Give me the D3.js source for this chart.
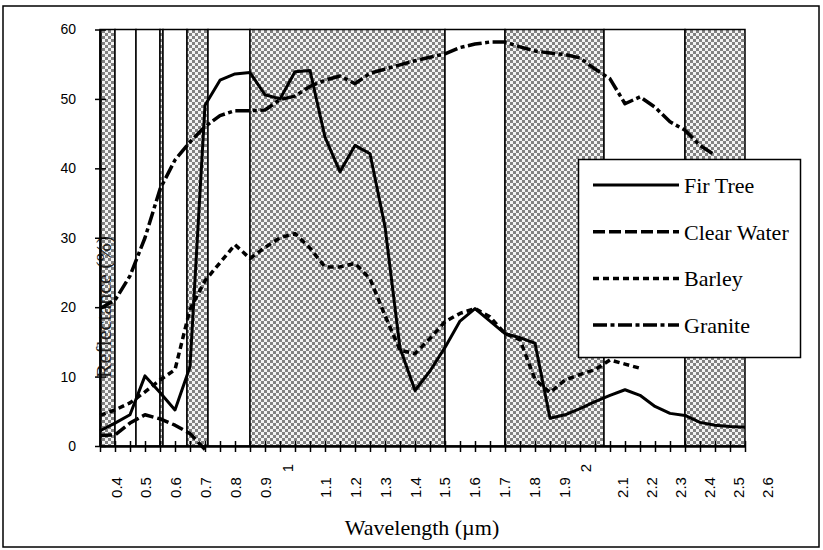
<!DOCTYPE html>
<html>
<head>
<meta charset="utf-8">
<script src="https://cdn.jsdelivr.net/npm/d3@7"></script>
<style>
    body { margin: 0; background: #fff; }
    svg { display: block; }
    .serif { font-family: "Liberation Serif", "Times New Roman", "DejaVu Serif", serif; }
    .sans { font-family: "Liberation Sans", Arial, sans-serif; }
</style>
</head>
<body>
<div id="chart"></div>
<script>
// wavelength categories (um) and reflectance (%)
const wavelengths = [0.40, 0.45, 0.50, 0.55, 0.60, 0.65, 0.70, 0.75, 0.80, 0.85, 0.90, 0.95,
    1.00, 1.05, 1.10, 1.15, 1.20, 1.25, 1.30, 1.35, 1.40, 1.45, 1.50, 1.55, 1.60, 1.65,
    1.70, 1.75, 1.80, 1.85, 1.90, 1.95, 2.00, 2.05, 2.10, 2.15, 2.20, 2.25, 2.30, 2.35,
    2.40, 2.45, 2.50, 2.55];
const firTree = [2.2, 3.3, 4.5, 10.1, 7.7, 5.2, 11.4, 49.1, 52.7, 53.6, 53.8, 50.6,
    50.0, 53.9, 54.1, 44.5, 39.5, 43.3, 42.1, 31.6, 14.1, 8.0, 10.8, 14.2, 18.0, 19.8,
    18.0, 16.2, 15.6, 14.8, 4.0, 4.5, 5.4, 6.4, 7.3, 8.1, 7.3, 5.7, 4.7, 4.4,
    3.4, 3.0, 2.8, 2.7];
const clearWater = [1.5, 1.6, 3.3, 4.5, 3.9, 3.0, 1.8, -0.5];
const barley = [4.4, 5.2, 6.2, 7.8, 9.5, 11.0, 19.7, 23.8, 26.4, 29.0, 27.0, 28.6,
    30.0, 30.6, 28.5, 25.8, 25.8, 26.3, 24.1, 18.8, 13.8, 13.3, 15.5, 17.9, 19.1, 19.8,
    18.6, 16.2, 15.3, 9.6, 7.7, 9.5, 10.3, 11.0, 12.4, 11.8, 11.2];
const granite = [19.8, 21.0, 24.5, 30.0, 37.0, 41.2, 43.8, 46.0, 47.6, 48.3, 48.3, 48.4,
    49.9, 50.4, 51.8, 52.7, 53.3, 52.2, 53.7, 54.3, 54.9, 55.5, 56.0, 56.5, 57.4, 57.9,
    58.2, 58.2, 57.5, 56.9, 56.6, 56.4, 55.9, 54.3, 52.9, 49.3, 50.3, 48.8, 46.7, 45.5,
    43.3, 41.9];

// sensor bands: edges (um) and whether the interval is a white (band) column
const bandEdges = [0.40, 0.45, 0.52, 0.60, 0.61, 0.69, 0.76, 0.90, 1.55, 1.75, 2.08, 2.35, 2.55];
const bandWhite = [false, true, true, false, true, false, true, false, true, false, true, false];

const yTicks = [0, 10, 20, 30, 40, 50, 60];
const xLabels = [0.4, 0.5, 0.6, 0.7, 0.8, 0.9, 1, 1.1, 1.2, 1.3, 1.4, 1.5, 1.6, 1.7,
    1.8, 1.9, 2, 2.1, 2.2, 2.3, 2.4, 2.5, 2.6];

const seriesNames = ["Fir Tree", "Clear Water", "Barley", "Granite"];
const seriesData = [firTree, clearWater, barley, granite];
const seriesDash = ["none", "12,4", "6,4", "14,3.5,4,3.5"];

const width = 823, height = 550;
const plot = { left: 100, right: 745, top: 29.5, bottom: 446 };

const svg = d3.select("#chart").append("svg")
    .attr("width", width)
    .attr("height", height);

// checkered fill of the shaded columns
const defs = svg.append("defs");
const pat = defs.append("pattern")
    .attr("id", "checker")
    .attr("patternUnits", "userSpaceOnUse")
    .attr("width", 6)
    .attr("height", 6);
pat.append("rect").attr("width", 6).attr("height", 6).attr("fill", "#f4f4f4");
pat.append("rect").attr("width", 3).attr("height", 3).attr("fill", "#828282");
pat.append("rect").attr("x", 3).attr("y", 3).attr("width", 3).attr("height", 3).attr("fill", "#828282");

// outer chart border
svg.append("rect")
    .attr("x", 3).attr("y", 6)
    .attr("width", 816).attr("height", 541)
    .attr("fill", "#fff")
    .attr("stroke", "#000")
    .attr("stroke-width", 1.5);

const x = d3.scaleLinear().domain([0.4, 2.55]).range([plot.left, plot.right]);
const y = d3.scaleLinear().domain([0, 60]).range([plot.bottom, plot.top]);
const labelX = d3.scaleLinear().domain([0.4, 1.9, 2.6]).range([116, 564.5, 767]);

// band columns
const bands = bandWhite.map((w, i) => ({ x0: bandEdges[i], x1: bandEdges[i + 1], white: w }));
svg.append("g")
    .selectAll("rect")
    .data(bands)
    .join("rect")
    .attr("x", d => x(d.x0))
    .attr("y", y(60))
    .attr("width", d => x(d.x1) - x(d.x0))
    .attr("height", y(0) - y(60))
    .attr("fill", d => d.white ? "#fff" : "url(#checker)")
    .attr("stroke", "#000")
    .attr("stroke-width", 1.5);

// y axis title (sits over the plot, under the curves)
svg.append("text")
    .attr("class", "serif")
    .attr("transform", `translate(111,307) rotate(-90)`)
    .attr("text-anchor", "middle")
    .attr("font-size", "22px")
    .attr("fill", "#222")
    .text("Reflectance (%)");

// series
const line = d3.line()
    .defined(d => d.v != null)
    .x(d => x(d.w))
    .y(d => y(d.v));

svg.append("g")
    .selectAll("path")
    .data(seriesData)
    .join("path")
    .attr("d", s => line(s.map((v, i) => ({ w: wavelengths[i], v: v }))))
    .attr("fill", "none")
    .attr("stroke", "#000")
    .attr("stroke-width", (d, i) => i === 0 ? 3 : 3.5)
    .attr("stroke-dasharray", (d, i) => seriesDash[i])
    .attr("stroke-linejoin", "round");

// x axis
const xAxis = d3.axisBottom(x)
    .tickValues(wavelengths)
    .tickSize(0)
    .tickFormat("");
svg.append("g")
    .attr("transform", `translate(0,${plot.bottom})`)
    .call(xAxis)
    .call(g => g.select(".domain").attr("stroke-width", 2.5))
    .call(g => g.selectAll(".tick line")
        .attr("y1", -5).attr("y2", 6)
        .attr("stroke-width", 1.5));

svg.append("g")
    .selectAll("text")
    .data(xLabels)
    .join("text")
    .attr("class", "sans")
    .attr("transform", d => Number.isInteger(d)
        ? `translate(${labelX(d) - 8},468) rotate(-90)`
        : `translate(${labelX(d)},487.5) rotate(-90)`)
    .attr("text-anchor", "middle")
    .attr("dominant-baseline", "central")
    .attr("font-size", "15px")
    .text(d => d);

// y axis
const yAxis = d3.axisLeft(y)
    .tickValues(yTicks)
    .tickSize(0)
    .tickPadding(24)
    .tickFormat(d3.format("d"));
svg.append("g")
    .attr("transform", `translate(${plot.left},0)`)
    .call(yAxis)
    .call(g => g.select(".domain").attr("stroke-width", 2.5))
    .call(g => g.selectAll(".tick line")
        .attr("x1", -5).attr("x2", 6)
        .attr("stroke-width", 1.5))
    .call(g => g.selectAll(".tick text")
        .attr("class", "sans")
        .attr("font-family", null)
        .attr("font-size", "14px")
        .attr("fill", "#000"));

// x axis title
svg.append("text")
    .attr("class", "serif")
    .attr("x", 422)
    .attr("y", 535)
    .attr("text-anchor", "middle")
    .attr("font-size", "22px")
    .text("Wavelength (\u00b5m)");

// legend
const legend = svg.append("g");
legend.append("rect")
    .attr("x", 578.5).attr("y", 159.5)
    .attr("width", 222).attr("height", 198)
    .attr("fill", "#fff")
    .attr("stroke", "#000")
    .attr("stroke-width", 1.5);

const rows = legend.selectAll("g.row")
    .data(seriesNames)
    .join("g")
    .attr("class", "row")
    .attr("transform", (d, i) => `translate(0,${185 + i * 46.7})`);
rows.append("line")
    .attr("x1", 593).attr("x2", 679)
    .attr("stroke", "#000")
    .attr("stroke-width", (d, i) => i === 0 ? 3 : 3.5)
    .attr("stroke-dasharray", (d, i) => seriesDash[i]);
rows.append("text")
    .attr("class", "serif")
    .attr("x", 684)
    .attr("y", 8)
    .attr("font-size", "22px")
    .text(d => d);
</script>
</body>
</html>
